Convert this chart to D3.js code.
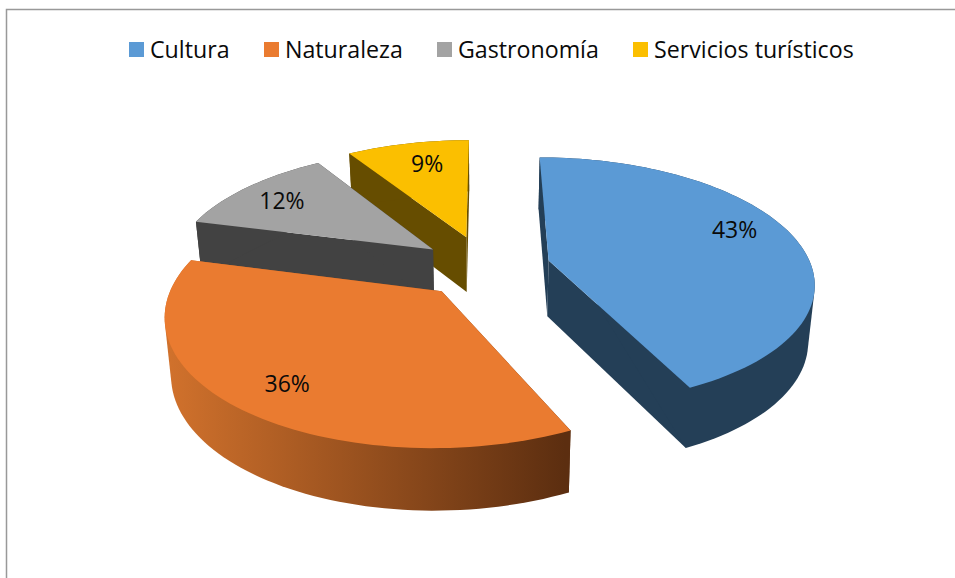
<!DOCTYPE html>
<html>
<head>
<meta charset="utf-8">
<script src="https://cdn.jsdelivr.net/npm/d3@7"></script>
<style>
  html, body { margin: 0; padding: 0; background: #fff; }
  svg { display: block; }
  text { font-family: "Open Sans", sans-serif; fill: #0a0a0a; }
</style>
</head>
<body>
<div id="chart"></div>
<script>
// Data
var categories = ["Cultura", "Naturaleza", "Gastronomía", "Servicios turísticos"];
var shares = [43, 36, 12, 9];
var labels = ["43%", "36%", "12%", "9%"];
var explode = [0.25, 0.25, 0.25, 0.265];

// Colours
var topColors = ["#5b9ad5", "#ea7b30", "#a3a3a3", "#fbbf00"];
var sideColors = ["#243f57", "url(#orangeWall)", "#424242", "#664d00"];

// Layout
var width = 955, height = 578;
var cx = 485, cy = 267;
var rx = 263, ry = 122, depth = 56, persp = 0.165;
var legendX = [129, 264, 437, 633];
var labelRadius = [0.72, 0.74, 0.7, 0.6];
var labelShift = [[9, -12], [-8, 10], [-18, -4], [-2, -14]];

var svg = d3.select("#chart").append("svg")
  .attr("width", width)
  .attr("height", height);

var grad = svg.append("defs").append("linearGradient")
  .attr("id", "orangeWall")
  .attr("gradientUnits", "userSpaceOnUse")
  .attr("x1", 170).attr("x2", 565).attr("y1", 0).attr("y2", 0);
grad.append("stop").attr("offset", 0).attr("stop-color", "#d0712c");
grad.append("stop").attr("offset", 1).attr("stop-color", "#5c2e10");

// Chart border
svg.append("path")
  .attr("d", "M6.5," + height + "V9.5H" + width)
  .attr("fill", "none")
  .attr("stroke", "#999")
  .attr("stroke-width", 1.5);

// Perspective: far side of the plane shrinks, z goes from top face (0) to bottom (1)
function project(X, Y, z) {
  var w = 1 / (1 + persp * Y);
  return [
    cx + rx * X * w * (1 - 0.02 * z),
    cy - ry * Y * w + z * depth * Math.sqrt(w)
  ];
}

var line = d3.line();
var pie = d3.pie().sort(null).startAngle(0).endAngle(2 * Math.PI);

var slices = pie(shares).map(function(d, i) {
  var mid = (d.startAngle + d.endAngle) / 2;
  d.index = i;
  d.mid = mid;
  d.ox = explode[i] * Math.sin(mid);
  d.oy = explode[i] * Math.cos(mid);
  return d;
});

function rimPoints(d, z) {
  var steps = Math.ceil((d.endAngle - d.startAngle) / 0.03);
  return d3.range(steps + 1).map(function(k) {
    var a = d.startAngle + (d.endAngle - d.startAngle) * k / steps;
    return project(d.ox + Math.sin(a), d.oy + Math.cos(a), z);
  });
}

// Back to front: yellow, gray, blue, orange
var order = [3, 2, 0, 1];
var pieG = svg.append("g");

order.forEach(function(i) {
  var d = slices[i];
  var g = pieG.append("g");
  var topRim = rimPoints(d, 0);
  var botRim = rimPoints(d, 1);
  var apexTop = project(d.ox, d.oy, 0);
  var apexBot = project(d.ox, d.oy, 1);
  var last = topRim.length - 1;

  // cut faces
  [[apexTop, topRim[0], botRim[0], apexBot],
   [apexTop, topRim[last], botRim[last], apexBot]].forEach(function(face) {
    g.append("path")
      .attr("d", line(face) + "Z")
      .attr("fill", sideColors[i]);
  });

  // outer wall: hull of both rims, the top face covers what is above the rim
  g.append("path")
    .attr("d", line(d3.polygonHull(topRim.concat(botRim))) + "Z")
    .attr("fill", sideColors[i]);

  // top face
  g.append("path")
    .attr("d", line([apexTop].concat(topRim)) + "Z")
    .attr("fill", topColors[i]);
});

// Percent labels
svg.append("g").selectAll("text")
  .data(slices)
  .enter().append("text")
  .attr("transform", function(d) {
    var r = labelRadius[d.index];
    var p = project(d.ox + r * Math.sin(d.mid), d.oy + r * Math.cos(d.mid), 0);
    return "translate(" + (p[0] + labelShift[d.index][0]) + "," + (p[1] + labelShift[d.index][1]) + ")";
  })
  .attr("text-anchor", "middle")
  .attr("dy", ".35em")
  .style("font-size", "23px")
  .text(function(d) { return labels[d.index]; });

// Legend
var legend = svg.append("g").selectAll("g")
  .data(categories)
  .enter().append("g")
  .attr("transform", function(d, i) { return "translate(" + legendX[i] + ",42)"; });

legend.append("rect")
  .attr("width", 15)
  .attr("height", 15)
  .attr("fill", function(d, i) { return topColors[i]; });

legend.append("text")
  .attr("x", 21)
  .attr("y", 15.5)
  .style("font-size", "23.2px")
  .text(function(d) { return d; });
</script>
</body>
</html>
